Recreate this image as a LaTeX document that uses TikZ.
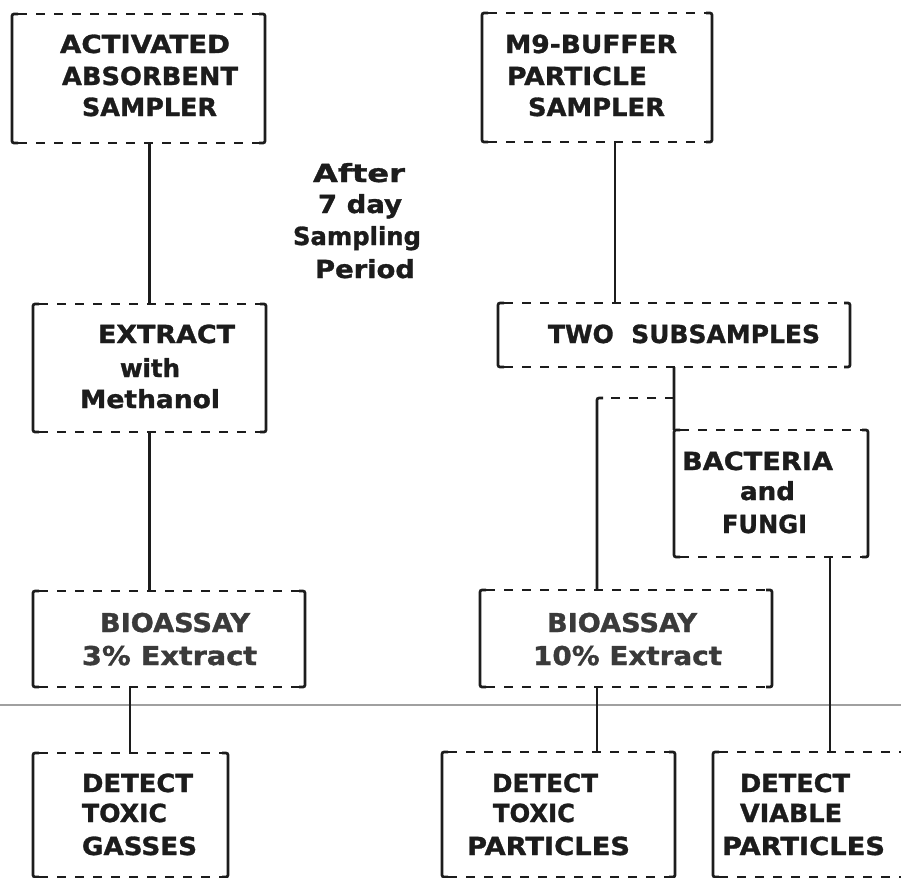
\documentclass[tikz,border=0pt]{standalone}
\usepackage{fontspec}
\setmainfont{DejaVu Sans}[BoldFeatures={FakeBold=1.2}]
\usepackage{graphicx}
\usetikzlibrary{calc}
\definecolor{ink}{HTML}{1C1C1C}
\definecolor{inkg}{HTML}{3A3A3A}
\definecolor{rulecol}{HTML}{A0A0A0}
\newcommand{\fitto}[2]{\resizebox{#1bp}{\height}{#2}}
\newcommand{\boxsides}[1]{%
  \draw[side] ([xshift=6bp]#1.north west) -- (#1.north west) -- (#1.south west) -- ([xshift=6bp]#1.south west);
  \draw[side] ([xshift=-6bp]#1.north east) -- (#1.north east) -- (#1.south east) -- ([xshift=-6bp]#1.south east);
  \draw[dsh] ([xshift=6bp]#1.north west) -- ([xshift=-6bp]#1.north east);
  \draw[dsh] ([xshift=6bp]#1.south west) -- ([xshift=-6bp]#1.south east);}
\tikzset{
  box/.style={draw=none, inner sep=0pt, outer sep=0pt, anchor=north west},
  side/.style={line width=2.7bp, draw=ink, rounded corners=2bp},
  dsh/.style={line width=2.7bp, draw=ink, dash pattern=on 9bp off 9bp},
  conn/.style={line width=2.7bp, draw=ink},
  lbl/.style={inner sep=0pt, outer sep=0pt, anchor=base west, text=ink, font=\bfseries\fontsize{25}{30}\selectfont},
  lbl2/.style={lbl, text=inkg, font=\bfseries\fontsize{26}{30}\selectfont},
  grayrule/.style={line width=2bp, draw=rulecol}
}
\begin{document}
\begin{tikzpicture}[x=1bp,y=-1bp]
\clip (0,0) rectangle (901,878);
\fill[white] (0,0) rectangle (901,878);

% boxes
\node[box, minimum width=253bp, minimum height=129bp] (b1) at (12,14) {};
\node[box, minimum width=230bp, minimum height=129bp] (b2) at (482,13) {};
\node[box, minimum width=233bp, minimum height=128bp] (ext) at (33,304) {};
\node[box, minimum width=352bp, minimum height=64bp] (two) at (498,303) {};
\node[box, minimum width=194bp, minimum height=127bp] (bact) at (674,430) {};
\node[box, minimum width=272bp, minimum height=96bp] (bio3) at (33,591) {};
\node[box, minimum width=292bp, minimum height=97bp] (bio10) at (480,590) {};
\node[box, minimum width=195bp, minimum height=124bp] (det1) at (33,753) {};
\node[box, minimum width=233bp, minimum height=125bp] (det2) at (442,752) {};
\node[box, minimum width=227bp, minimum height=125bp] (det3) at (713,752) {};

\boxsides{b1}
\boxsides{b2}
\boxsides{ext}
\boxsides{two}
\boxsides{bact}
\boxsides{bio3}
\boxsides{bio10}
\boxsides{det1}
\boxsides{det2}
\boxsides{det3}

% gray rule
\draw[grayrule] (0,705) -- (901,705);

% connectors
\coordinate (c2) at (615,0);
\coordinate (br) at (597,398);
\coordinate (c3) at (830,0);
\coordinate (c1) at (130,0);
\draw[conn] (b1.south -| ext.north) -- (ext.north);
\draw[conn] (ext.south) -- (ext.south |- bio3.north);
\draw[conn] (c1 |- bio3.south) -- (c1 |- det1.north);
\draw[conn] (c2 |- b2.south) -- (c2 |- two.north);
\draw[conn] (two.south) -- (bact.north west);
\draw[dsh] (two.south |- br) -- ([xshift=4bp]br);
\draw[side] ([xshift=6bp]br) -- (br) -- (br |- bio10.north);
\draw[conn] (br |- bio10.south) -- (br |- det2.north);
\draw[conn] (c3 |- bact.south) -- (c3 |- det3.north);

% texts
\node[lbl] (t1) at (60,53) {\fitto{170}{ACTIVATED}};
\node[lbl] (t2) at (62,85) {\fitto{176}{ABSORBENT}};
\node[lbl] (t3) at (82,116) {\fitto{135}{SAMPLER}};

\node[lbl] (t4) at (505,53) {\fitto{172}{M9-BUFFER}};
\node[lbl] (t5) at (507,85) {\fitto{140}{PARTICLE}};
\node[lbl] (t6) at (528,116) {\fitto{137}{SAMPLER}};

\node[lbl] (t7) at (313,182) {\fitto{92}{After}};
\node[lbl] (t8) at (318,213) {\fitto{84}{7 day}};
\node[lbl] (t9) at (293,245) {\fitto{128}{Sampling}};
\node[lbl] (t10) at (315,278) {\fitto{100}{Period}};

\node[lbl] (t11) at (98,343) {\fitto{137}{EXTRACT}};
\node[lbl] (t12) at (120,377) {\fitto{60}{with}};
\node[lbl] (t13) at (80,408) {\fitto{140}{Methanol}};

\node[lbl] (t14) at (548,343) {\fitto{272}{TWO\ \ SUBSAMPLES}};

\node[lbl] (t15) at (682,470) {\fitto{151}{BACTERIA}};
\node[lbl] (t16) at (740,500) {\fitto{55}{and}};
\node[lbl] (t17) at (722,533) {\fitto{85}{FUNGI}};

\node[lbl2] (t18) at (100,632) {\fitto{150}{BIOASSAY}};
\node[lbl2] (t19) at (82,665) {\fitto{175}{3\% Extract}};
\node[lbl2] (t20) at (547,632) {\fitto{150}{BIOASSAY}};
\node[lbl2] (t21) at (533,665) {\fitto{189}{10\% Extract}};

\node[lbl] (t22) at (82,792) {\fitto{111}{DETECT}};
\node[lbl] (t23) at (82,822) {\fitto{85}{TOXIC}};
\node[lbl] (t24) at (82,855) {\fitto{115}{GASSES}};

\node[lbl] (t25) at (492,792) {\fitto{106}{DETECT}};
\node[lbl] (t26) at (493,822) {\fitto{82}{TOXIC}};
\node[lbl] (t27) at (467,855) {\fitto{163}{PARTICLES}};

\node[lbl] (t28) at (740,792) {\fitto{110}{DETECT}};
\node[lbl] (t29) at (740,822) {\fitto{102}{VIABLE}};
\node[lbl] (t30) at (722,855) {\fitto{163}{PARTICLES}};
\end{tikzpicture}
\end{document}
